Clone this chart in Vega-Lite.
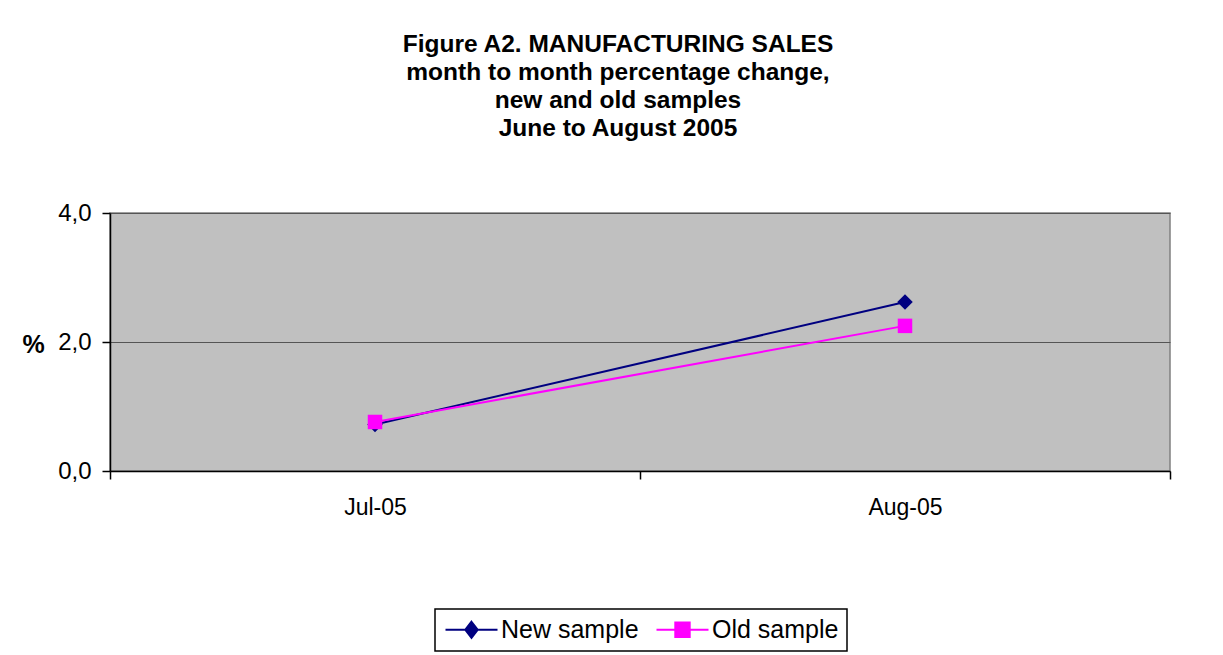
{
  "$schema": "https://vega.github.io/schema/vega-lite/v6.json",
  "width": 1060,
  "height": 258,
  "autosize": {"type": "none"},
  "padding": {"left": 110, "top": 213, "right": 53, "bottom": 184},
  "background": "white",
  "title": {
    "text": ["Figure A2. MANUFACTURING SALES", "month to month percentage change,", "new and old samples", "June to August 2005"],
    "font": "Liberation Sans",
    "fontSize": 24.5,
    "fontWeight": "bold",
    "lineHeight": 28,
    "color": "black",
    "anchor": "middle",
    "dx": -22,
    "offset": 60
  },
  "data": {
    "values": [
      {"month": "Jul-05", "series": "New sample", "value": 0.72},
      {"month": "Aug-05", "series": "New sample", "value": 2.62},
      {"month": "Jul-05", "series": "Old sample", "value": 0.76},
      {"month": "Aug-05", "series": "Old sample", "value": 2.25}
    ]
  },
  "config": {
    "view": {"fill": "#C0C0C0", "stroke": "#808080", "strokeWidth": 1.5},
    "font": "Liberation Sans"
  },
  "encoding": {
    "x": {
      "field": "month",
      "type": "nominal",
      "sort": ["Jul-05", "Aug-05"],
      "scale": {"paddingInner": 0, "paddingOuter": 0},
      "axis": {
        "title": null,
        "labelAngle": 0,
        "labelFont": "Liberation Sans",
        "labelFontSize": 23,
        "labelColor": "black",
        "labelPadding": 17,
        "tickBand": "extent",
        "tickSize": 8,
        "tickColor": "black",
        "tickWidth": 1.5,
        "domainColor": "black",
        "domainWidth": 1.5,
        "grid": false
      }
    },
    "y": {
      "field": "value",
      "type": "quantitative",
      "scale": {"domain": [0, 4]},
      "axis": {
        "values": [0, 2, 4],
        "labelExpr": "replace(format(datum.value, '.1f'), '.', ',')",
        "labelFont": "Liberation Sans",
        "labelFontSize": 24,
        "labelColor": "black",
        "labelPadding": 11,
        "tickSize": 8,
        "tickColor": "black",
        "tickWidth": 1.5,
        "domainColor": "black",
        "domainWidth": 1.5,
        "grid": true,
        "gridColor": "#555555",
        "gridWidth": 1,
        "title": "%",
        "titleFont": "Liberation Sans",
        "titleFontSize": 25,
        "titleFontWeight": "bold",
        "titleColor": "black",
        "titleAngle": 0,
        "titleAlign": "center",
        "titleBaseline": "middle",
        "titleX": -77,
        "titleY": 131
      }
    },
    "color": {
      "field": "series",
      "type": "nominal",
      "scale": {"domain": ["New sample", "Old sample"], "range": ["#000080", "#FF00FF"]},
      "legend": {
        "title": null,
        "orient": "none",
        "legendX": 325,
        "legendY": 396,
        "direction": "horizontal",
        "strokeColor": "black",
        "fillColor": "white",
        "padding": 8,
        "labelFont": "Liberation Sans",
        "labelFontSize": 25,
        "labelColor": "black",
        "labelOffset": 17,
        "symbolOffset": 16,
        "columnPadding": 13,
        "symbolSize": 400,
        "symbolStrokeWidth": 2,
        "encode": {
          "legend": {"update": {"strokeWidth": {"value": 1.5}}},
          "symbols": {
            "update": {
              "shape": {"signal": "datum.value === 'New sample' ? 'M-2.6,0H2.6M0,-0.8L0.62,0L0,0.8L-0.62,0Z' : 'M-2.6,0H2.6M-0.72,-0.72H0.72V0.72H-0.72Z'"},
              "fill": {"signal": "datum.value === 'New sample' ? '#000080' : '#FF00FF'"},
              "stroke": {"signal": "datum.value === 'New sample' ? '#000080' : '#FF00FF'"},
              "strokeWidth": {"value": 2},
              "opacity": {"value": 1},
              "fillOpacity": {"value": 1}
            }
          }
        }
      }
    }
  },
  "layer": [
    {"mark": {"type": "line", "strokeWidth": 2}},
    {
      "transform": [{"filter": "datum.series === 'New sample'"}],
      "mark": {"type": "point", "filled": true, "opacity": 1, "size": 240, "shape": "diamond"}
    },
    {
      "transform": [{"filter": "datum.series === 'Old sample'"}],
      "mark": {"type": "point", "filled": true, "opacity": 1, "size": 210, "shape": "square"}
    }
  ]
}
